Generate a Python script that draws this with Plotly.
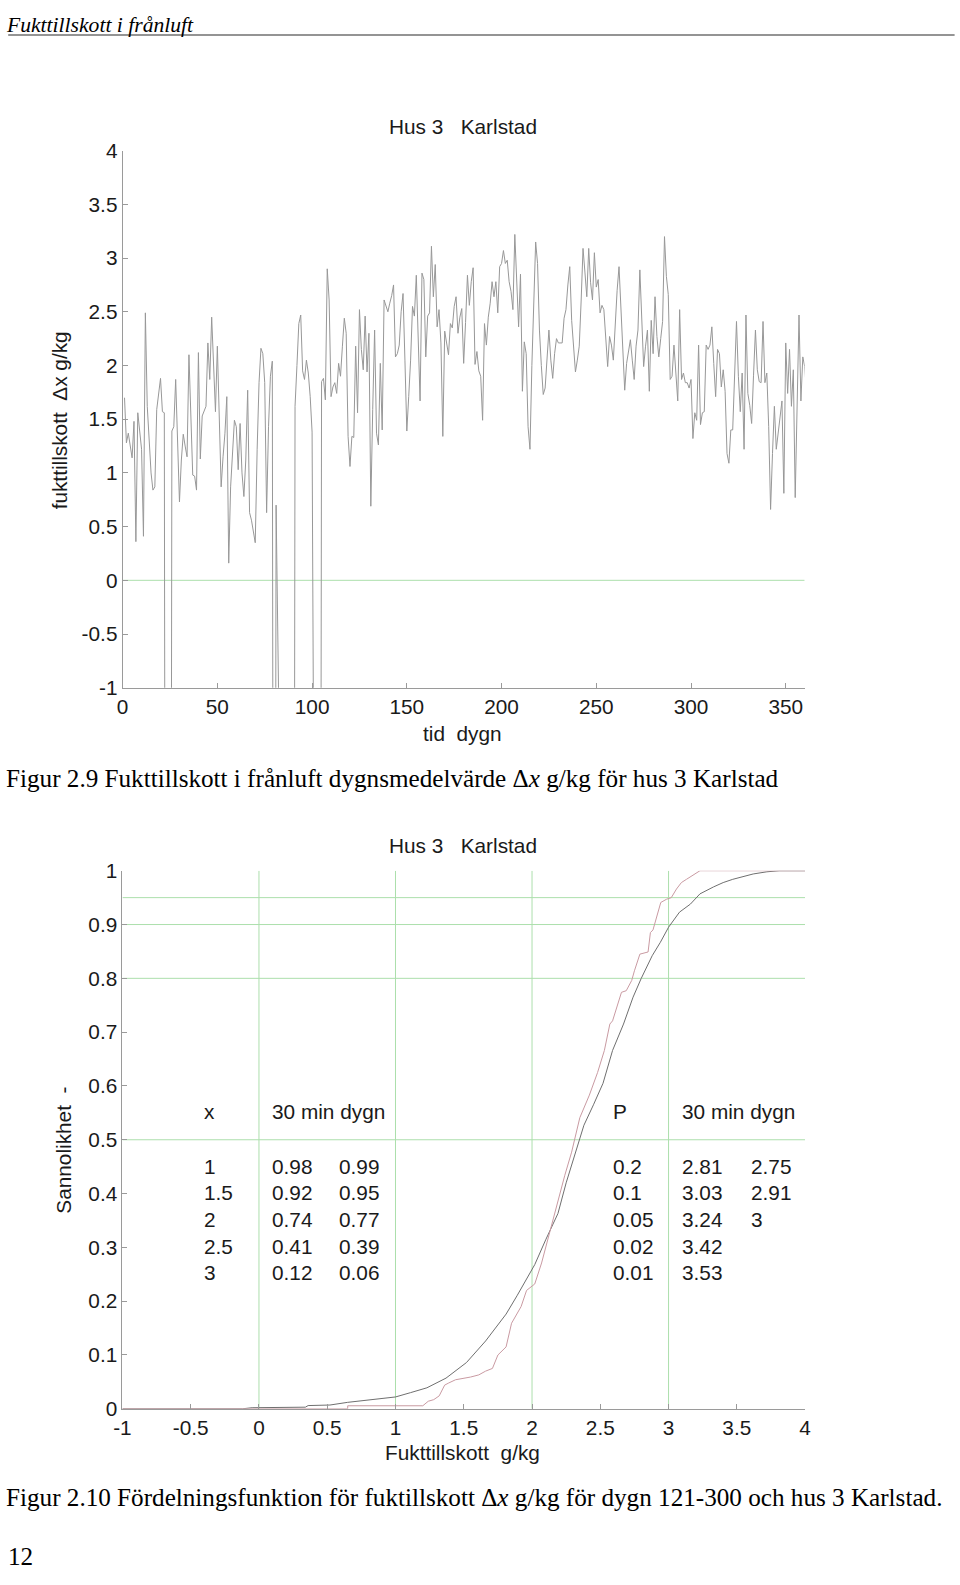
import plotly.graph_objects as go

# ---------------- data ----------------
# Daily mean moisture supplement (g/kg), day 1..361 ; -10 = off-scale (missing) values
dx_daily = [
    1.70, 1.28, 1.37, 1.25, 1.14, 1.48, 0.36, 1.56, 1.40, 1.22,
    0.41, 2.49, 1.62, 1.30, 1.00, 0.84, 0.87, 1.59, 1.75, 1.88,
    1.57, 1.56, -10, -10, -10, 1.39, 1.43, 1.87, 1.25, 0.73,
    1.12, 1.36, 1.25, 1.15, 2.10, 1.63, 0.98, 0.97, 0.84, 2.12,
    1.13, 1.53, 1.58, 1.62, 2.21, 1.87, 2.45, 1.93, 1.57, 2.18,
    1.40, 0.87, 1.15, 1.37, 1.71, 0.16, 0.87, 1.20, 1.49, 1.43,
    1.03, 1.46, 1.00, 0.78, 1.12, 1.77, 0.63, 0.56, 0.45, 0.35,
    1.22, 1.84, 2.16, 2.11, 1.84, 0.63, 1.43, 1.90, 2.04, -10,
    0.70, -10, -10, -10, -10, -10, -10, -10, -10, -10,
    1.62, 2.00, 2.39, 2.47, 1.95, 1.87, 2.05, 1.93, 1.71, 1.38,
    -10, -10, -10, -10, 1.85, 1.88, 1.68, 2.90, 2.61, 1.71,
    1.80, 1.84, 1.74, 2.02, 1.90, 2.18, 2.44, 2.30, 1.34, 1.06,
    1.34, 1.33, 2.18, 1.56, 2.52, 2.15, 1.96, 2.46, 1.94, 2.30,
    0.69, 1.59, 2.33, 1.37, 1.26, 2.02, 1.40, 2.61, 2.55, 2.50,
    2.58, 2.65, 2.75, 2.08, 2.11, 2.19, 2.50, 2.67, 2.05, 1.39,
    1.71, 2.05, 2.55, 2.46, 2.84, 2.24, 1.67, 2.86, 2.80, 2.08,
    2.46, 2.49, 3.11, 2.64, 2.94, 2.36, 2.52, 2.21, 1.34, 2.32,
    2.20, 2.10, 2.39, 2.35, 2.55, 2.64, 2.30, 2.45, 2.53, 2.02,
    2.40, 2.84, 2.56, 2.78, 2.91, 2.01, 2.13, 1.95, 1.90, 1.49,
    2.39, 2.19, 2.45, 2.58, 2.78, 2.64, 2.78, 2.49, 2.92, 2.95,
    3.07, 2.95, 2.98, 2.78, 2.69, 2.52, 3.22, 2.81, 2.36, 2.85,
    1.76, 2.22, 2.11, 1.43, 1.22, 2.00, 2.60, 3.15, 2.95, 2.33,
    2.00, 1.73, 1.79, 2.11, 2.33, 2.05, 1.88, 2.11, 2.25, 2.21,
    2.21, 2.21, 2.44, 2.52, 2.75, 2.92, 2.42, 2.15, 1.94, 2.05,
    2.18, 2.60, 3.09, 2.87, 2.64, 3.09, 2.77, 2.61, 3.05, 2.73,
    2.80, 2.49, 2.56, 2.52, 2.20, 1.99, 2.27, 2.19, 2.05, 2.41,
    2.70, 2.92, 2.55, 2.10, 1.77, 2.02, 2.15, 2.24, 2.05, 1.87,
    2.18, 2.33, 2.89, 2.33, 1.99, 2.18, 2.33, 1.76, 2.42, 2.11,
    2.64, 2.27, 2.08, 2.25, 2.41, 3.20, 2.83, 2.66, 1.87, 1.90,
    2.19, 1.93, 1.67, 2.52, 1.87, 1.93, 1.84, 1.84, 1.79, 1.87,
    1.32, 1.56, 1.49, 2.19, 1.45, 1.56, 1.57, 2.19, 2.15, 2.19,
    2.36, 2.02, 1.71, 2.15, 2.11, 1.80, 1.96, 1.76, 1.18, 1.09,
    1.40, 1.40, 1.93, 2.41, 1.90, 1.57, 1.93, 1.22, 2.47, 1.74,
    1.63, 1.46, 1.91, 2.33, 1.96,
    1.85, 1.84, 2.41, 1.84, 1.93, 1.43, 0.66, 1.18, 1.62, 1.22,
    1.37, 1.49, 1.67, 0.81, 2.21, 1.74, 2.15, 1.62, 1.96, 0.77,
    1.53, 2.47, 1.67, 2.08, 1.99, 1.74,
]
days = list(range(1, len(dx_daily) + 1))

# Distribution functions (cumulative probability)
cdf30_x = [-1.0, -0.12, -0.05, 0.0, 0.34, 0.36, 0.52, 0.65, 0.77, 0.89, 1.0, 1.11, 1.23,
           1.37, 1.52, 1.66, 1.81, 1.89, 1.96, 2.02, 2.10, 2.19, 2.25, 2.32, 2.38, 2.45,
           2.52, 2.59, 2.67, 2.74, 2.80, 2.88, 2.94, 3.00, 3.08, 3.16, 3.23, 3.33, 3.40,
           3.47, 3.55, 3.62, 3.72, 3.81, 4.0]
cdf30_p = [0.0, 0.0, 0.002, 0.002, 0.003, 0.006, 0.007, 0.012, 0.015, 0.019, 0.022, 0.030,
           0.039, 0.057, 0.086, 0.126, 0.176, 0.21, 0.24, 0.268, 0.314, 0.363, 0.42, 0.477,
           0.527, 0.565, 0.605, 0.666, 0.715, 0.765, 0.800, 0.842, 0.867, 0.895, 0.923,
           0.938, 0.957, 0.970, 0.978, 0.984, 0.989, 0.994, 0.998, 1.0, 1.0]

cdfday_x = [-1.0, 0.65, 0.65, 1.20, 1.24, 1.28, 1.32, 1.34, 1.36, 1.39, 1.44, 1.55, 1.61,
            1.66, 1.71, 1.75, 1.81, 1.85, 1.92, 1.96, 2.02, 2.07, 2.12, 2.19, 2.24, 2.29,
            2.35, 2.42, 2.48, 2.53, 2.57, 2.59, 2.62, 2.655, 2.69, 2.73, 2.75, 2.79, 2.85,
            2.867, 2.886, 2.911, 2.943, 2.985, 3.02, 3.058, 3.094, 3.131, 3.167, 3.216,
            3.23, 4.0]
cdfday_p = [0.0, 0.0, 0.0056, 0.0056, 0.014, 0.017, 0.024, 0.035, 0.044, 0.048, 0.054,
            0.059, 0.063, 0.070, 0.075, 0.100, 0.115, 0.159, 0.190, 0.220, 0.232, 0.271,
            0.320, 0.385, 0.434, 0.477, 0.541, 0.583, 0.625, 0.666, 0.715, 0.721, 0.746,
            0.774, 0.777, 0.796, 0.814, 0.845, 0.849, 0.885, 0.890, 0.913, 0.941, 0.947,
            0.950, 0.966, 0.978, 0.984, 0.990, 0.998, 1.0, 1.0]

# Table inside the distribution chart
tab_x = ["1", "1.5", "2", "2.5", "3"]
tab_x_30 = ["0.98", "0.92", "0.74", "0.41", "0.12"]
tab_x_day = ["0.99", "0.95", "0.77", "0.39", "0.06"]
tab_p = ["0.2", "0.1", "0.05", "0.02", "0.01"]
tab_p_30 = ["2.81", "3.03", "3.24", "3.42", "3.53"]
tab_p_day = ["2.75", "2.91", "3", "", ""]

# Tick labels
top_yticks = [-1, -0.5, 0, 0.5, 1, 1.5, 2, 2.5, 3, 3.5, 4]
top_ylabels = ["-1", "-0.5", "0", "0.5", "1", "1.5", "2", "2.5", "3", "3.5", "4"]
top_xticks = [0, 50, 100, 150, 200, 250, 300, 350]
bot_yticks = [0, 0.1, 0.2, 0.3, 0.4, 0.5, 0.6, 0.7, 0.8, 0.9, 1]
bot_ylabels = ["0", "0.1", "0.2", "0.3", "0.4", "0.5", "0.6", "0.7", "0.8", "0.9", "1"]
bot_xticks = [-1, -0.5, 0, 0.5, 1, 1.5, 2, 2.5, 3, 3.5, 4]
bot_xlabels = ["-1", "-0.5", "0", "0.5", "1", "1.5", "2", "2.5", "3", "3.5", "4"]
bot_vgrid = [0, 1, 2, 3]
bot_hgrid = [0.5, 0.8, 0.9, 0.95]

# ---------------- layout helpers ----------------
W, H = 960, 1585
# measured mapping from page pixels to the photographed picture
S = 0.985
OX, OY = 8.8, 12.0


def px(x):
    return ((x - OX) / S) / W


def py(y):
    return 1 - ((y - OY) / S) / H


def fs(size):
    return size / S


SANS = "Liberation Sans, Arial, sans-serif"
SERIF = "Liberation Serif, Times New Roman, serif"
AX = "#9a9a9a"
GREEN = "#acdfac"
TXT = "#1a1a1a"
FS = fs(20.5)
TFS = fs(20.5)

fig = go.Figure()
fig.add_trace(go.Scatter(x=days, y=dx_daily, mode="lines",
                         line=dict(color="#989898", width=1), xaxis="x", yaxis="y",
                         showlegend=False, hoverinfo="skip"))
fig.add_trace(go.Scatter(x=cdf30_x, y=cdf30_p, mode="lines",
                         line=dict(color="#6f6f6f", width=1), xaxis="x2", yaxis="y2",
                         showlegend=False, hoverinfo="skip"))
fig.add_trace(go.Scatter(x=cdfday_x, y=cdfday_p, mode="lines",
                         line=dict(color="#c99aa2", width=1), xaxis="x2", yaxis="y2",
                         showlegend=False, hoverinfo="skip"))

axis_common = dict(showline=True, linecolor=AX, linewidth=1, ticks="inside", ticklen=5,
                   tickcolor=AX, tickwidth=1, showgrid=False, zeroline=False,
                   tickfont=dict(family=SANS, size=TFS, color=TXT), fixedrange=True)

shapes = []
# header rule
shapes.append(dict(type="line", xref="paper", yref="paper", x0=px(8), x1=px(955),
                   y0=py(35), y1=py(35), line=dict(color="#707070", width=1.5)))
# top chart zero line
shapes.append(dict(type="line", xref="x", yref="y", x0=0, x1=360, y0=0, y1=0,
                   line=dict(color=GREEN, width=1), layer="below"))
for gx in bot_vgrid:
    shapes.append(dict(type="line", xref="x2", yref="y2", x0=gx, x1=gx, y0=0, y1=1,
                       line=dict(color=GREEN, width=1), layer="below"))
for gy in bot_hgrid:
    shapes.append(dict(type="line", xref="x2", yref="y2", x0=-1, x1=4, y0=gy, y1=gy,
                       line=dict(color=GREEN, width=1), layer="below"))

ann = []


def text(x, y, s, size=FS, family=SANS, xanchor="center", angle=0, color=TXT,
         yanchor="middle"):
    ann.append(dict(xref="paper", yref="paper", x=px(x), y=min(py(y), 1.0), text=s,
                    showarrow=False, xanchor=xanchor, yanchor=yanchor, textangle=angle,
                    borderpad=0, font=dict(family=family, size=size, color=color)))


NB = "\u00a0"
CAP = fs(24.8)
text(5, 0, "<i>Fukttillskott i frånluft</i>", size=fs(21.3), family=SERIF, xanchor="left",
     color="#000", yanchor="top")
text(463, 126, "Hus 3" + NB * 3 + "Karlstad")
text(463, 733, "tid" + NB * 2 + "dygn")
text(59, 420, "fukttillskott" + NB * 2 + "Δx g/kg", angle=-90)
text(5, 778, "Figur 2.9 Fukttillskott i frånluft dygnsmedelvärde Δ<i>x</i> g/kg för hus 3 Karlstad",
     size=CAP, family=SERIF, xanchor="left", color="#000")

text(463, 845, "Hus 3" + NB * 3 + "Karlstad")
text(463, 1452, "Fukttillskott" + NB * 2 + "g/kg")
text(63, 1150, "Sannolikhet" + NB * 2 + "-", angle=-90)
text(5, 1497, "Figur 2.10 Fördelningsfunktion för fuktillskott Δ<i>x</i> g/kg för dygn 121-300 och hus 3 Karlstad.",
     size=CAP, family=SERIF, xanchor="left", color="#000")
text(7, 1556, "12", size=CAP, family=SERIF, xanchor="left", color="#000")

# table
hdr_y = 1111
row_y = [1165.5, 1192, 1219, 1245.5, 1272]
text(203, hdr_y, "x", xanchor="left")
text(271, hdr_y, "30 min dygn", xanchor="left")
text(612, hdr_y, "P", xanchor="left")
text(681, hdr_y, "30 min dygn", xanchor="left")
for i, yy in enumerate(row_y):
    text(203, yy, tab_x[i], xanchor="left")
    text(271, yy, tab_x_30[i], xanchor="left")
    text(338, yy, tab_x_day[i], xanchor="left")
    text(612, yy, tab_p[i], xanchor="left")
    text(681, yy, tab_p_30[i], xanchor="left")
    if tab_p_day[i]:
        text(750, yy, tab_p_day[i], xanchor="left")

fig.update_layout(
    width=W, height=H, margin=dict(l=0, r=0, t=0, b=0),
    paper_bgcolor="white", plot_bgcolor="white", showlegend=False,
    xaxis=dict(domain=[px(122.5), px(805)], range=[0, 360], tickvals=top_xticks,
               anchor="y", **axis_common),
    yaxis=dict(domain=[py(687.4), py(150.6)], range=[-1, 4], tickvals=top_yticks,
               ticktext=top_ylabels, anchor="x", **axis_common),
    xaxis2=dict(domain=[px(122.3), px(805.4)], range=[-1, 4], tickvals=bot_xticks,
                ticktext=bot_xlabels, anchor="y2", **axis_common),
    yaxis2=dict(domain=[py(1408.1), py(870.3)], range=[0, 1], tickvals=bot_yticks,
                ticktext=bot_ylabels, anchor="x2", **axis_common),
    shapes=shapes, annotations=ann,
)

fig.write_html(
    "out.html",
    config={"displayModeBar": False, "staticPlot": True},
    post_script="document.body.style.margin='0';document.body.style.padding='0';"
                "document.documentElement.style.overflow='hidden';"
                "document.body.style.overflow='hidden';",
)
